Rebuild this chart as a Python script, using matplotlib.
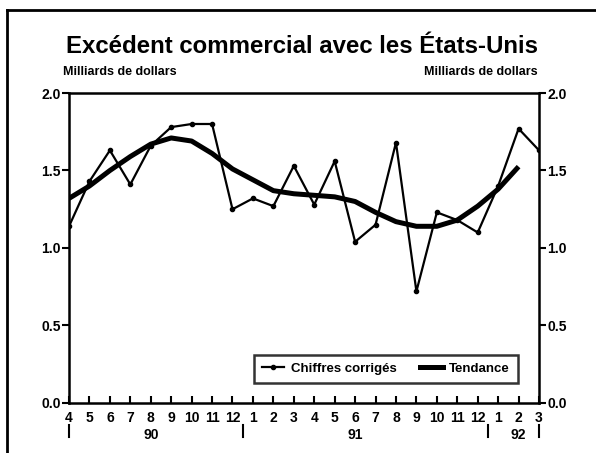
import matplotlib
matplotlib.use("Agg")
import matplotlib.pyplot as plt
from matplotlib.lines import Line2D

plt.rcParams['font.family'] = ['Liberation Sans', 'DejaVu Sans']
plt.rcParams['font.weight'] = 'bold'

# Months from April 1990 to March 1992
month_labels = ['4', '5', '6', '7', '8', '9', '10', '11', '12',
                '1', '2', '3', '4', '5', '6', '7', '8', '9', '10', '11', '12',
                '1', '2', '3']
chiffres = [1.14, 1.43, 1.63, 1.41, 1.66, 1.78, 1.80, 1.80, 1.25,
            1.32, 1.27, 1.53, 1.28, 1.56, 1.04, 1.15, 1.68, 0.72, 1.23, 1.18, 1.10,
            1.40, 1.77, 1.63]
tendance = [1.32, 1.40, 1.50, 1.59, 1.67, 1.71, 1.69, 1.61, 1.51,
            1.44, 1.37, 1.35, 1.34, 1.33, 1.30, 1.23, 1.17, 1.14, 1.14, 1.18, 1.27,
            1.38, 1.525]
year_labels = ['90', '91', '92']
year_label_pos = [4.0, 14.0, 22.0]
year_separators = [0.0, 8.5, 20.5, 23.0]
y_ticks = [0.0, 0.5, 1.0, 1.5, 2.0]

x = list(range(len(chiffres)))
xt = list(range(len(tendance)))

fig = plt.figure(figsize=(5.96, 4.53), dpi=100)
ax = fig.add_axes([0.1158, 0.1104, 0.9044 - 0.1158, 0.7947 - 0.1104])

ax.plot(x, chiffres, color='black', lw=1.6, marker='o', ms=3, zorder=3)
ax.plot(xt, tendance, color='black', lw=3.6, solid_capstyle='butt',
        solid_joinstyle='round', zorder=4)

ax.set_xlim(0, 23)
ax.set_ylim(0, 2.0)
for s in ax.spines.values():
    s.set_linewidth(1.8)

ax.set_yticks(y_ticks)
ax.set_yticklabels([f"{v:.1f}" for v in y_ticks])
ax.tick_params(axis='y', which='both', direction='out', length=5, width=1.5,
               left=True, right=True, labelleft=True, labelright=True,
               labelsize=10, pad=1)
ax.set_xticks(x)
ax.set_xticklabels(month_labels)
ax.tick_params(axis='x', direction='in', length=5, width=1.5, labelsize=10, pad=6)

# year labels and separators
trans = ax.get_xaxis_transform()
for lab, p in zip(year_labels, year_label_pos):
    ax.text(p, -0.08, lab, transform=trans, ha='center', va='top',
            fontsize=10, fontweight='bold')
for p in year_separators:
    ax.add_line(Line2D([p, p], [-0.07, -0.11], transform=trans, color='black',
                       lw=1.5, clip_on=False))

# axis unit labels
fig.text(0.106, 0.827, 'Milliards de dollars', ha='left', va='bottom',
         fontsize=9, fontweight='bold')
fig.text(0.902, 0.827, 'Milliards de dollars', ha='right', va='bottom',
         fontsize=9, fontweight='bold')

# title
fig.text(0.507, 0.897, 'Excédent commercial avec les États-Unis', ha='center',
         va='center', fontsize=17.3, fontweight='bold')

# legend
h1 = Line2D([], [], color='black', lw=1.6, marker='o', ms=3)
h2 = Line2D([], [], color='black', lw=3.6)
leg = ax.legend([h1, h2], ['Chiffres corrigés', 'Tendance'], ncol=2,
                loc='lower right', bbox_to_anchor=(0.955, 0.0645),
                frameon=True, fancybox=False,
                handlelength=1.7, handletextpad=0.5, borderaxespad=0,
                borderpad=0.6, columnspacing=1.8,
                prop={'weight': 'bold', 'size': 9.5})
leg.get_frame().set_edgecolor('black')
leg.get_frame().set_linewidth(1.8)

# outer frame (top and left)
fig.add_artist(Line2D([0.012, 1.0], [0.978, 0.978], transform=fig.transFigure,
                      color='black', lw=2))
fig.add_artist(Line2D([0.012, 0.012], [0.0, 0.978], transform=fig.transFigure,
                      color='black', lw=2))

fig.savefig('out.png', dpi=100)
